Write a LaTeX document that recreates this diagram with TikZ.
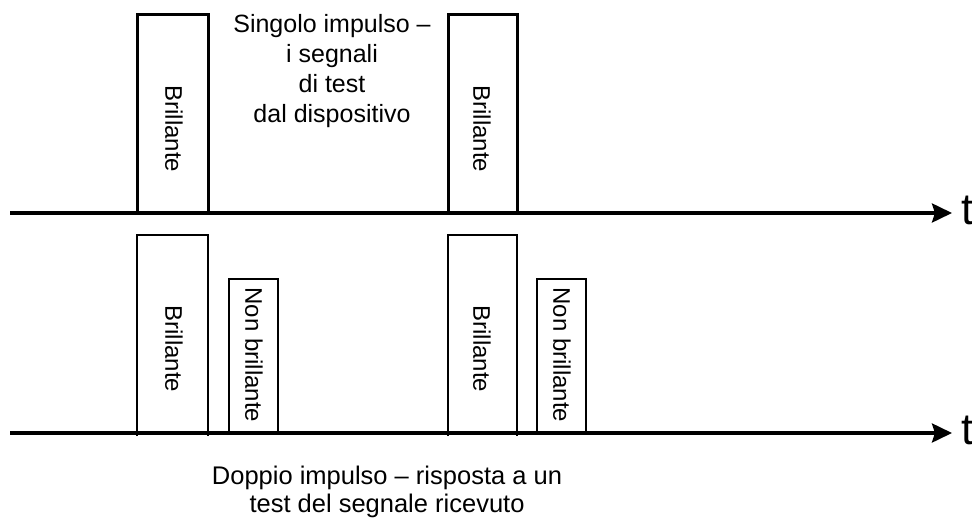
\documentclass[tikz,border=0pt]{standalone}
\usepackage{fontspec}
\setmainfont{Liberation Sans}
\usetikzlibrary{arrows.meta}
\begin{document}
\begin{tikzpicture}[x=1pt,y=-1pt,
  axis/.style={line width=3.5pt,-{Stealth[length=20pt,width=19pt,inset=3pt]}},
  pulseup/.style={draw,line width=3pt},
  pulselo/.style={draw,line width=2.5pt},
  vlabel/.style={rotate=-90,font=\fontsize{24}{28}\selectfont,inner sep=0pt},
  caption/.style={align=center,inner sep=0pt,anchor=base},
  tlabel/.style={font=\fontsize{44}{48}\selectfont,inner sep=0pt,anchor=base west}]
\useasboundingbox (0,0) rectangle (972,519);
% axes
\coordinate (a1s) at (10,213);
\coordinate (a1e) at (952,213);
\coordinate (a2s) at (10,433);
\coordinate (a2e) at (952,433);
% upper pulses
\draw[pulseup] (137,213) -- (137,15) -- (208,15) -- (208,213);
\draw[pulseup] (448,213) -- (448,15) -- (517,15) -- (517,213);
% lower pulses
\draw[pulselo] (137,436) -- (137,235) -- (208,235) -- (208,436);
\draw[pulselo] (229,433) -- (229,279) -- (278,279) -- (278,433);
\draw[pulselo] (448,436) -- (448,235) -- (517,235) -- (517,436);
\draw[pulselo] (537,433) -- (537,279) -- (586,279) -- (586,433);
\draw[axis] (a1s) -- (a1e);
\draw[axis] (a2s) -- (a2e);
\node[tlabel] (t1) at (961,224) {t};
\node[tlabel] (t2) at (961,444) {t};
% labels
\node[vlabel] (b1) at (174,129) {Brillante};
\node[vlabel] (b2) at (482,129) {Brillante};
\node[vlabel] (b3) at (174,349) {Brillante};
\node[vlabel] (b4) at (482,349) {Brillante};
\node[vlabel] (n1) at (254,355) {Non brillante};
\node[vlabel] (n2) at (562,355) {Non brillante};
\node[caption,font=\fontsize{25}{29.7}\selectfont] (c1) at (332,122) {Singolo impulso –\\i segnali\\di test\\dal dispositivo};
\node[caption,font=\fontsize{25.5}{28}\selectfont] (c2) at (387,512.5) {Doppio impulso – risposta a un\\test del segnale ricevuto};
\end{tikzpicture}
\end{document}
